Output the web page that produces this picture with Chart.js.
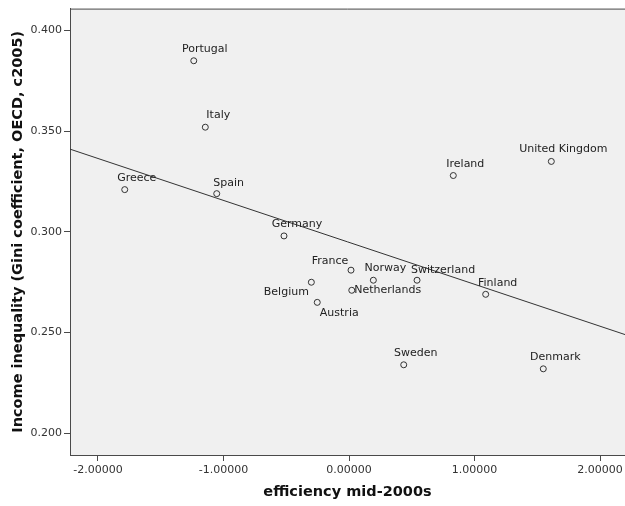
<!DOCTYPE html>
<html>
<head>
<meta charset="utf-8">
<script src="https://cdn.jsdelivr.net/npm/chart.js@4"></script>
<style>
  body { margin: 0; background: #ffffff; }
  #wrap { width: 625px; height: 506px; }
</style>
</head>
<body>
<div id="wrap"><canvas id="giniChart" width="625" height="506"></canvas></div>
<script>
// Data
const countries = ['Portugal', 'Italy', 'Greece', 'Spain', 'Germany', 'Belgium', 'Austria', 'France',
    'Norway', 'Switzerland', 'Netherlands', 'Finland', 'Ireland', 'United Kingdom', 'Sweden', 'Denmark'];
const efficiency = [-1.237, -1.145, -1.787, -1.054, -0.518, -0.300, -0.253, 0.016,
    0.194, 0.542, 0.022, 1.089, 0.831, 1.612, 0.436, 1.548];
const gini = [0.385, 0.352, 0.321, 0.319, 0.298, 0.275, 0.265, 0.281,
    0.276, 0.276, 0.271, 0.269, 0.328, 0.335, 0.234, 0.232];
const xTicks = [-2, -1, 0, 1, 2];
const yTicks = [0.200, 0.250, 0.300, 0.350, 0.400];

// axis ranges
const xMin = -2.223, xMax = 2.199;
const yMin = 0.1892, yMax = 0.4109;

// label placement around each point (pixels, relative to the point centre)
const labelOffset = {
    'Portugal': [11, -12], 'Italy': [13, -12], 'Greece': [12, -11], 'Spain': [12, -11],
    'Germany': [13, -12], 'Belgium': [-25, 10], 'Austria': [22, 11], 'France': [-21, -9],
    'Norway': [12, -12], 'Switzerland': [26, -10], 'Netherlands': [36, 0], 'Finland': [12, -11],
    'Ireland': [12, -11], 'United Kingdom': [12, -12], 'Sweden': [12, -12], 'Denmark': [12, -12]
};

// least squares fit line
const n = efficiency.length;
const mx = efficiency.reduce((a, b) => a + b, 0) / n;
const my = gini.reduce((a, b) => a + b, 0) / n;
let sxy = 0, sxx = 0;
for (let i = 0; i < n; i++) {
    sxy += (efficiency[i] - mx) * (gini[i] - my);
    sxx += (efficiency[i] - mx) * (efficiency[i] - mx);
}
const slope = sxy / sxx;
const intercept = my - slope * mx;

const points = efficiency.map((x, i) => ({ x: x, y: gini[i] }));
const fitLine = [xMin, xMax].map(x => ({ x: x, y: intercept + slope * x }));

const font = 'DejaVu Sans';
const axisColor = '#4a4a4a';

const plotArea = {
    id: 'plotArea',
    beforeDraw(chart) {
        const a = chart.chartArea;
        const ctx = chart.ctx;
        ctx.save();
        ctx.fillStyle = '#f0f0f0';
        ctx.fillRect(a.left, a.top, a.right - a.left, a.bottom - a.top);
        ctx.restore();
    },
    afterDraw(chart) {
        const a = chart.chartArea;
        const ctx = chart.ctx;
        ctx.save();
        ctx.strokeStyle = axisColor;
        ctx.lineWidth = 1;
        ctx.beginPath();
        ctx.moveTo(a.left, a.top + 0.5);
        ctx.lineTo(a.right, a.top + 0.5);
        ctx.stroke();
        ctx.restore();
    }
};

const pointLabels = {
    id: 'pointLabels',
    afterDatasetsDraw(chart) {
        const ctx = chart.ctx;
        const xs = chart.scales.x, ys = chart.scales.y;
        ctx.save();
        ctx.font = '11px "' + font + '"';
        ctx.fillStyle = '#222';
        ctx.textAlign = 'center';
        ctx.textBaseline = 'middle';
        countries.forEach((name, i) => {
            const off = labelOffset[name];
            const px = xs.getPixelForValue(efficiency[i]);
            const py = ys.getPixelForValue(gini[i]);
            ctx.fillText(name, px + off[0], py + off[1]);
        });
        ctx.restore();
    }
};

const config = {
    type: 'scatter',
    data: {
        datasets: [{
            label: 'Countries',
            data: points,
            pointRadius: 3,
            pointHoverRadius: 3,
            pointBackgroundColor: 'rgba(0,0,0,0)',
            pointBorderColor: '#333',
            pointBorderWidth: 1
        }, {
            type: 'line',
            label: 'Fit',
            data: fitLine,
            borderColor: '#333',
            borderWidth: 1,
            pointRadius: 0,
            fill: false
        }]
    },
    options: {
        responsive: false,
        animation: false,
        events: [],
        layout: { autoPadding: false, padding: { top: 8, right: 0, left: 0, bottom: 0 } },
        plugins: {
            legend: { display: false },
            tooltip: { enabled: false }
        },
        scales: {
            x: {
                type: 'linear',
                min: xMin,
                max: xMax,
                afterBuildTicks: scale => { scale.ticks = xTicks.map(v => ({ value: v })); },
                afterFit: scale => { scale.height = 51; scale.paddingLeft = 0; scale.paddingRight = 0; },
                ticks: {
                    callback: v => v.toFixed(5),
                    font: { family: font, size: 11 },
                    color: '#333',
                    padding: 3,
                    maxRotation: 0
                },
                grid: { drawOnChartArea: false, drawTicks: true, tickLength: 6, tickColor: axisColor, lineWidth: 1 },
                border: { display: true, color: axisColor, width: 1 },
                title: {
                    display: true,
                    text: 'efficiency mid-2000s',
                    font: { family: font, size: 14.5, weight: 'bold' },
                    color: '#111',
                    padding: { top: 0, bottom: 5 }
                }
            },
            y: {
                type: 'linear',
                min: yMin,
                max: yMax,
                afterBuildTicks: scale => { scale.ticks = yTicks.map(v => ({ value: v })); },
                afterFit: scale => { scale.width = 70; },
                ticks: {
                    callback: v => v.toFixed(3),
                    font: { family: font, size: 11 },
                    color: '#333',
                    padding: 2
                },
                grid: { drawOnChartArea: false, drawTicks: true, tickLength: 6, tickColor: axisColor, lineWidth: 1 },
                border: { display: true, color: axisColor, width: 1 },
                title: {
                    display: true,
                    text: 'Income inequality (Gini coefficient, OECD, c2005)',
                    font: { family: font, size: 14.5, weight: 'bold' },
                    color: '#111',
                    padding: { top: 10, bottom: 0 }
                }
            }
        }
    },
    plugins: [plotArea, pointLabels]
};

const ctx = document.getElementById('giniChart').getContext('2d');
new Chart(ctx, config);
</script>
</body>
</html>
